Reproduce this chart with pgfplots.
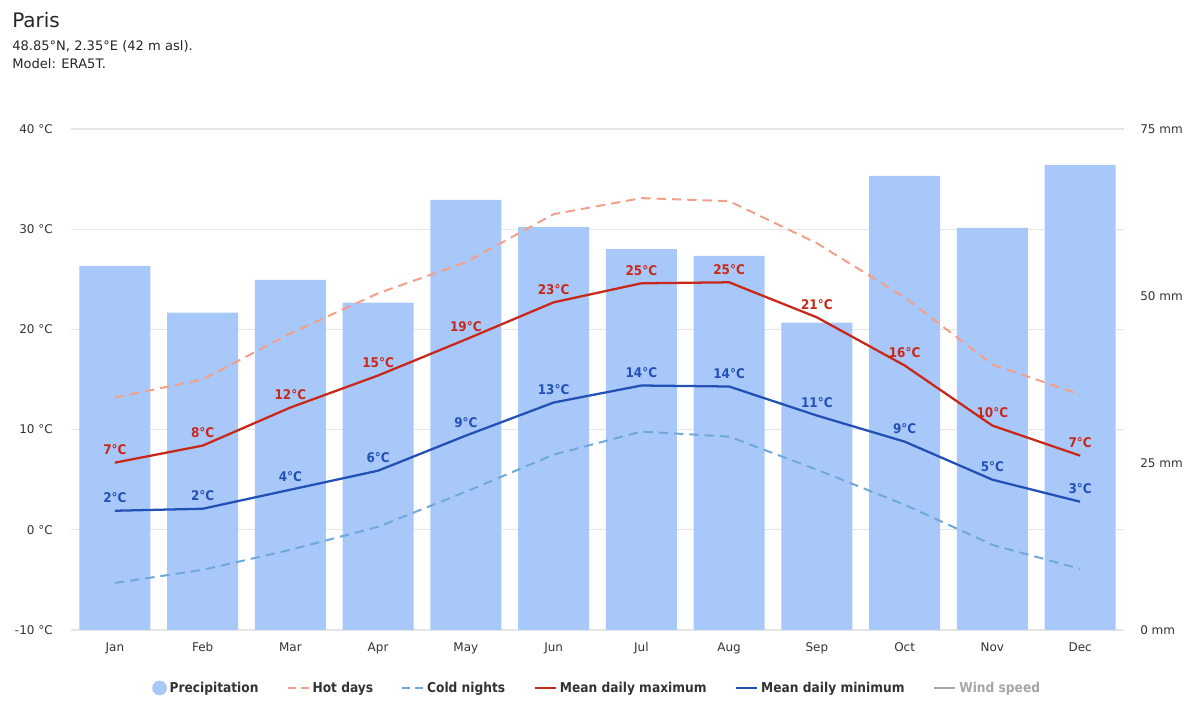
\documentclass[border=0pt]{standalone}
\usepackage{fontspec}
\setmainfont{DejaVu Sans}
\newfontfamily\condfont{DejaVu Sans Condensed}
\usepackage{pgfplots}
\usepackage{pgfplotstable}
\pgfplotsset{compat=1.18}

\definecolor{precip}{HTML}{A9C8FA}
\definecolor{tmaxc}{HTML}{C8281A}
\definecolor{tminc}{HTML}{2350B5}
\definecolor{hotc}{HTML}{F2A08C}
\definecolor{coldc}{HTML}{70A8DC}
\definecolor{gridc}{HTML}{E6E6E6}
\definecolor{txt}{HTML}{333333}

\pgfplotstableread{
x prec tmax lmax tmin lmin hot cold
0 54.5 6.7 7 1.9 2 13.2 -5.3
1 47.5 8.4 8 2.1 2 15.0 -4.0
2 52.4 12.2 12 4.0 4 19.6 -2.0
3 49.0 15.4 15 5.9 6 23.6 0.3
4 64.4 19.0 19 9.4 9 26.7 3.8
5 60.3 22.7 23 12.7 13 31.5 7.5
6 57.0 24.6 25 14.4 14 33.1 9.8
7 56.0 24.7 25 14.3 14 32.8 9.3
8 46.0 21.2 21 11.4 11 28.6 6.0
9 68.0 16.4 16 8.8 9 23.2 2.5
10 60.2 10.4 10 5.0 5 16.5 -1.5
11 69.6 7.4 7 2.8 3 13.5 -3.9
}\data

\begin{document}
\begin{tikzpicture}[x=1pt,y=1pt]
\useasboundingbox (0,0) rectangle (900,540);

\node[anchor=north west, inner sep=0pt, text=black!85, font=\fontsize{15}{18}\selectfont] at (9,531) {Paris};
\node[anchor=north west, inner sep=0pt, text=black!85, align=left, font=\fontsize{9.8}{13.5}\selectfont] at (9,509.5) {48.85°N, 2.35°E (42 m asl).\\Model: ERA5T.};

% Axis A: grid, left ticks, month labels
\begin{axis}[
  at={(53.25pt,67.5pt)}, anchor=south west,
  scale only axis, width=789.75pt, height=375.75pt,
  xmin=-0.5, xmax=11.5, ymin=-10, ymax=40,
  ytick={-10,0,10,20,30,40},
  yticklabels={-10 °C,0 °C,10 °C,20 °C,30 °C,40 °C},
  xtick={0,...,11},
  xticklabels={Jan,Feb,Mar,Apr,May,Jun,Jul,Aug,Sep,Oct,Nov,Dec},
  ymajorgrids, grid style={color=gridc, line width=0.8pt},
  axis line style={draw=none}, major tick style={draw=none},
  yticklabel style={inner sep=0pt, xshift=-13.5pt, text=txt, font=\fontsize{9}{11}\selectfont},
  xticklabel style={inner sep=0pt, yshift=-9pt, text=txt, font=\fontsize{9}{11}\selectfont},
]
\addplot[draw=none] coordinates {(0,0)};
\end{axis}

% Axis B: precipitation bars
\begin{axis}[
  at={(53.25pt,67.5pt)}, anchor=south west,
  scale only axis, width=789.75pt, height=375.75pt,
  xmin=-0.5, xmax=11.5, ymin=0, ymax=75,
  axis y line*=right, hide x axis,
  ytick={0,25,50,75}, yticklabels={0 mm,25 mm,50 mm,75 mm},
  axis line style={draw=none}, major tick style={draw=none},
  yticklabel style={inner sep=0pt, xshift=12pt, anchor=west, text=txt, font=\fontsize{9}{11}\selectfont},
  ybar, bar width=53.25pt,
]
\addplot[fill=precip, draw=none] table[x=x, y=prec] {\data};
\end{axis}

% Axis C: temperature lines
\begin{axis}[
  at={(53.25pt,67.5pt)}, anchor=south west,
  scale only axis, width=789.75pt, height=375.75pt,
  xmin=-0.5, xmax=11.5, ymin=-10, ymax=40,
  axis lines=none, xtick=\empty, ytick=\empty, clip=false,
  legend columns=6,
  legend style={at={(0.5,-0.1158)}, anchor=center, draw=none, fill=none,
    font=\condfont\bfseries\fontsize{10.2}{12}\selectfont, text=txt,
    /tikz/every even column/.append style={column sep=19pt}},
  legend image code/.code={\draw[#1] (0pt,0pt) -- (16pt,0pt);},
  nodes near coords style={anchor=south, inner sep=0pt, yshift=5pt, font=\condfont\bfseries\fontsize{10}{12}\selectfont},
]
\addlegendimage{legend image code/.code={\fill[precip] (10pt,0pt) circle (5.3pt);}}
\addlegendentry{Precipitation}
\addlegendimage{hotc, line width=1.5pt, dash pattern=on 6pt off 4pt}
\addlegendentry{Hot days}
\addlegendimage{coldc, line width=1.5pt, dash pattern=on 6pt off 4pt}
\addlegendentry{Cold nights}
\addlegendimage{tmaxc, line width=2pt}
\addlegendentry{Mean daily maximum}
\addlegendimage{tminc, line width=2pt}
\addlegendentry{Mean daily minimum}
\addlegendimage{black!35, line width=2pt}
\addlegendentry{\textcolor{black!35}{Wind speed}}

\addplot[forget plot, hotc, line width=1.5pt, dash pattern=on 7pt off 4.5pt] table[x=x, y=hot] {\data};
\addplot[forget plot, coldc, line width=1.5pt, dash pattern=on 7pt off 4.5pt] table[x=x, y=cold] {\data};
\addplot[forget plot, tmaxc, line width=1.7pt, point meta=explicit symbolic,
  nodes near coords={\textcolor{tmaxc}{\pgfplotspointmeta°C}}] table[x=x, y=tmax, meta=lmax] {\data};
\addplot[forget plot, tminc, line width=1.7pt, point meta=explicit symbolic,
  nodes near coords={\textcolor{tminc}{\pgfplotspointmeta°C}}] table[x=x, y=tmin, meta=lmin] {\data};
\end{axis}
\end{tikzpicture}
\end{document}
